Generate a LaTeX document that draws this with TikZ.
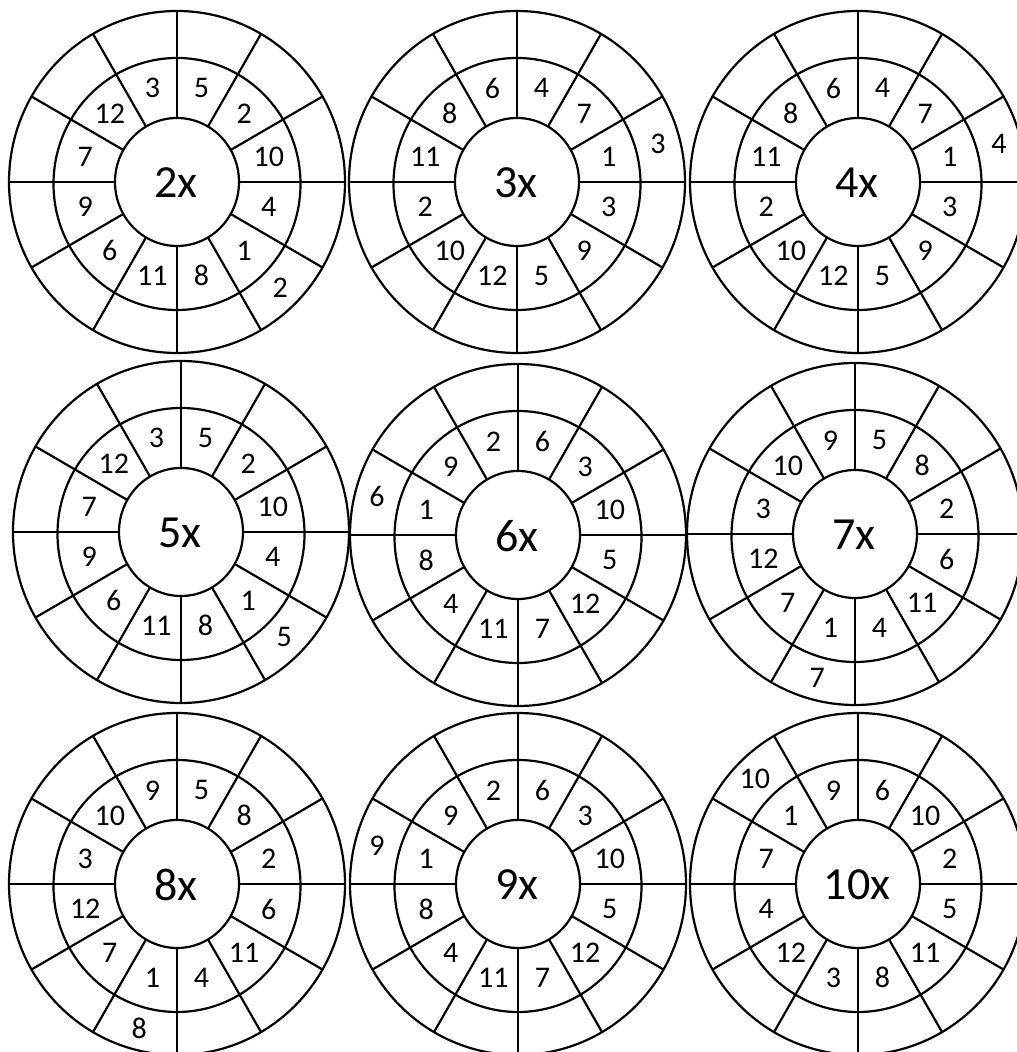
\documentclass[tikz,border=0pt]{standalone}
\usepackage{fontspec}
\setmainfont{Carlito}
\tikzset{
  ring/.style={line width=2.2pt},
  spoke/.style={line width=2.2pt},
  num/.style={inner sep=0pt, font=\fontsize{30}{36}\selectfont},
  lbl/.style={inner sep=0pt, font=\fontsize{46}{55}\selectfont},
}
\newcommand{\mywheel}[7]{%
  \begin{scope}[shift={(#2,#3)}]
    \draw[ring] (0,0) ellipse [x radius=168, y radius=171];
    \draw[ring] (0,-2) ellipse [x radius=123.5, y radius=126];
    \draw[ring] (0,0) ellipse [x radius=62, y radius=64];
    \foreach \a in {0,30,...,330}
      \draw[spoke] (\a:62 and 64) -- (\a:168 and 171);
    \node[lbl] (#1c) at (-1,-1) {#4};
    \foreach \n [count=\k from 0] in {#5}
      \node[num] (#1n\k) at ({75-30*\k}:95 and 97) {\n};
    \node[num] (#1o) at (#6:146 and 149) {#7};
  \end{scope}}
\begin{document}
\begin{tikzpicture}[x=1pt,y=1pt]
\useasboundingbox (0,0) rectangle (1017,1052);
\clip (0,0) rectangle (1017,1052);
\mywheel{a}{177}{870}{2x}{5,2,10,4,1,8,11,6,9,7,12,3}{-45}{2}
\mywheel{b}{517}{870}{3x}{4,7,1,3,9,5,12,10,2,11,8,6}{15}{3}
\mywheel{c}{858}{870}{4x}{4,7,1,3,9,5,12,10,2,11,8,6}{15}{4}
\mywheel{d}{181}{520}{5x}{5,2,10,4,1,8,11,6,9,7,12,3}{-45}{5}
\mywheel{e}{518}{517}{6x}{6,3,10,5,12,7,11,4,8,1,9,2}{165}{6}
\mywheel{f}{855}{518}{7x}{5,8,2,6,11,4,1,7,12,3,10,9}{-105}{7}
\mywheel{g}{177}{168}{8x}{5,8,2,6,11,4,1,7,12,3,10,9}{-105}{8}
\mywheel{h}{518}{168}{9x}{6,3,10,5,12,7,11,4,8,1,9,2}{165}{9}
\mywheel{i}{858}{168}{10x}{6,10,2,5,11,8,3,12,4,7,1,9}{135}{10}
\end{tikzpicture}
\end{document}
